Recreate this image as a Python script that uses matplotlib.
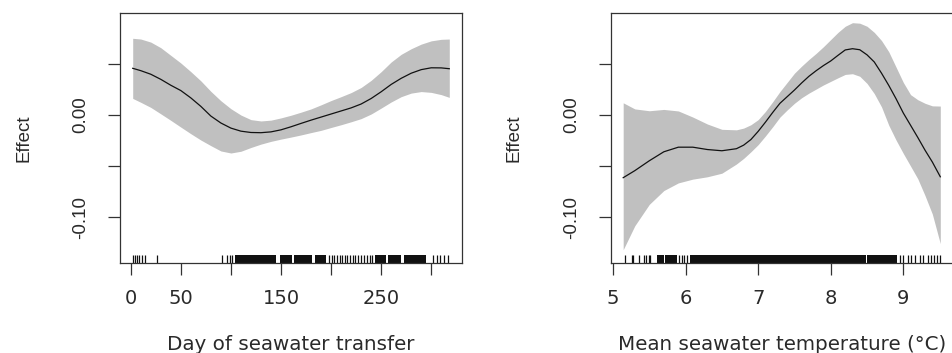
import matplotlib
matplotlib.use("Agg")
import matplotlib.pyplot as plt

plt.rcParams['font.family'] = ['Liberation Sans', 'DejaVu Sans']

# ---------------- Left panel: Day of seawater transfer ----------------
day_x = [2, 10, 20, 30, 40, 50, 60, 70, 80, 90, 100, 110, 120, 130, 140, 150, 160, 170, 180,
         190, 200, 210, 220, 230, 240, 250, 260, 270, 280, 290, 300, 310, 318]
day_fit = [0.0458, 0.0435, 0.0400, 0.0350, 0.0292, 0.0240, 0.0168, 0.0085, -0.0010, -0.0078,
           -0.0128, -0.0158, -0.0171, -0.0173, -0.0165, -0.0145, -0.0115, -0.0082, -0.0050,
           -0.0020, 0.0010, 0.0040, 0.0070, 0.0108, 0.0162, 0.0228, 0.0300, 0.0360, 0.0410,
           0.0445, 0.0463, 0.0462, 0.0454]
day_upper = [0.0752, 0.0745, 0.0715, 0.0660, 0.0585, 0.0510, 0.0425, 0.0335, 0.0232, 0.0140,
             0.0062, 0.0000, -0.0045, -0.0058, -0.0050, -0.0028, -0.0002, 0.0028, 0.0060,
             0.0100, 0.0142, 0.0180, 0.0220, 0.0270, 0.0340, 0.0425, 0.0520, 0.0595, 0.0650,
             0.0695, 0.0727, 0.0742, 0.0745]
day_lower = [0.0163, 0.0125, 0.0075, 0.0012, -0.0052, -0.0118, -0.0183, -0.0245, -0.0300, -0.0352,
             -0.0372, -0.0355, -0.0318, -0.0285, -0.0258, -0.0236, -0.0216, -0.0195, -0.0172,
             -0.0150, -0.0122, -0.0095, -0.0066, -0.0035, 0.0010, 0.0068, 0.0128, 0.0180, 0.0215,
             0.0230, 0.0222, 0.0200, 0.0173]
day_rug = [2, 4, 6, 8, 11, 14, 26, 91, 96, 99, 101,
           198, 201, 203, 206, 209, 211, 214, 216, 219, 222, 224, 227, 230, 233, 236, 239, 241,
           302, 306, 309, 313, 317]
day_rug_blocks = [(104, 145), (149, 161), (163, 181), (184, 195), (244, 255), (257, 270), (273, 295)]
day_xticks = [0, 50, 100, 150, 200, 250, 300]
day_xticklabels = ['0', '50', '', '150', '', '250', '']

# ---------------- Right panel: Mean seawater temperature ----------------
temp_x = [5.14, 5.3, 5.5, 5.7, 5.9, 6.1, 6.3, 6.5, 6.7, 6.8, 6.9, 7.0, 7.1, 7.2, 7.3, 7.4, 7.5,
          7.6, 7.7, 7.8, 7.9, 8.0, 8.1, 8.2, 8.3, 8.4, 8.5, 8.6, 8.7, 8.8, 8.9, 9.0, 9.1, 9.2,
          9.3, 9.4, 9.51]
temp_fit = [-0.0614, -0.0545, -0.0448, -0.0360, -0.0315, -0.0315, -0.0338, -0.0350, -0.0330,
            -0.0295, -0.0240, -0.0160, -0.0070, 0.0025, 0.0115, 0.0180, 0.0245, 0.0315, 0.0380,
            0.0435, 0.0485, 0.0530, 0.0585, 0.0638, 0.0650, 0.0640, 0.0590, 0.0520, 0.0410,
            0.0290, 0.0160, 0.0020, -0.0100, -0.0220, -0.0345, -0.0460, -0.0605]
temp_upper = [0.0120, 0.0060, 0.0042, 0.0055, 0.0040, -0.0020, -0.0088, -0.0140, -0.0145,
              -0.0128, -0.0095, -0.0045, 0.0035, 0.0130, 0.0230, 0.0320, 0.0410, 0.0480, 0.0545,
              0.0605, 0.0670, 0.0740, 0.0810, 0.0870, 0.0905, 0.0900, 0.0870, 0.0810, 0.0730,
              0.0620, 0.0470, 0.0320, 0.0200, 0.0150, 0.0115, 0.0090, 0.0088]
temp_lower = [-0.1320, -0.1085, -0.0875, -0.0740, -0.0665, -0.0628, -0.0605, -0.0570, -0.0480,
              -0.0425, -0.0360, -0.0290, -0.0205, -0.0115, -0.0020, 0.0050, 0.0115, 0.0170,
              0.0215, 0.0255, 0.0295, 0.0330, 0.0365, 0.0398, 0.0405, 0.0380, 0.0310, 0.0210,
              0.0080, -0.0100, -0.0245, -0.0376, -0.0500, -0.0625, -0.0790, -0.0970, -0.1260]
temp_rug = [5.16, 5.26, 5.28, 5.36, 5.42, 5.45, 5.49, 5.51, 5.91, 5.95, 5.98, 6.02,
            8.96, 9.00, 9.07, 9.11, 9.16, 9.23, 9.27, 9.34, 9.38, 9.43, 9.47, 9.51]
temp_rug_blocks = [(5.60, 5.70), (5.72, 5.88), (6.06, 8.48), (8.50, 8.91)]
temp_xticks = [5, 6, 7, 8, 9]
temp_xticklabels = ['5', '6', '7', '8', '9']

y_ticks = [-0.10, -0.05, 0.00, 0.05]
y_ticklabels = ['-0.10', '', '0.00', '']

W, H = 952, 353
fig = plt.figure(figsize=(W / 100, H / 100), dpi=100)

TXT = '#2a2a2a'
BAND = '#c0c0c0'
HFONT = ['DejaVu Sans']       # horizontal text
VFONT = ['Liberation Sans']   # rotated text

panels = [
    dict(rect=[120 / W, (H - 263) / H, 342 / W, 250 / H], x=day_x, fit=day_fit, up=day_upper, lo=day_lower,
         rug=day_rug, blocks=day_rug_blocks, xticks=day_xticks, xtl=day_xticklabels,
         xlim=(-10.7, 330.7), xlabel='Day of seawater transfer'),
    dict(rect=[610.5 / W, (H - 263) / H, 342.5 / W, 250 / H], x=temp_x, fit=temp_fit, up=temp_upper, lo=temp_lower,
         rug=temp_rug, blocks=temp_rug_blocks, xticks=temp_xticks, xtl=temp_xticklabels,
         xlim=(4.965, 9.685), xlabel='Mean seawater temperature (°C)'),
]

for p in panels:
    ax = fig.add_axes(p['rect'])
    ax.fill_between(p['x'], p['lo'], p['up'], color=BAND, linewidth=0)
    ax.plot(p['x'], p['fit'], color='#111111', linewidth=0.9)
    ax.vlines(p['rug'], 0, 0.032, transform=ax.get_xaxis_transform(), color='#111111', linewidth=0.9)
    for a, b in p['blocks']:
        ax.axvspan(a, b, ymin=0, ymax=0.032, color='#111111', linewidth=0)
    ax.set_xlim(*p['xlim'])
    ax.set_ylim(-0.145, 0.100)
    ax.set_xticks(p['xticks'])
    ax.set_xticklabels(p['xtl'], family=HFONT, fontsize=14)
    ax.set_yticks(y_ticks)
    ax.set_yticklabels(y_ticklabels, rotation=90, va='center', family=VFONT, fontsize=13.5)
    for s in ax.spines.values():
        s.set_color('#333333')
        s.set_linewidth(0.9)
    ax.tick_params(axis='both', direction='out', length=8.5, width=0.9, color='#333333',
                   labelcolor=TXT)
    ax.tick_params(axis='x', pad=10)
    ax.tick_params(axis='y', pad=13.5)
    ax.set_xlabel(p['xlabel'], fontsize=14.3, family=HFONT, color=TXT, labelpad=20)
    ax.set_ylabel('Effect', fontsize=13.5, family=VFONT, color=TXT, labelpad=29)

fig.savefig('out.png', dpi=100)
